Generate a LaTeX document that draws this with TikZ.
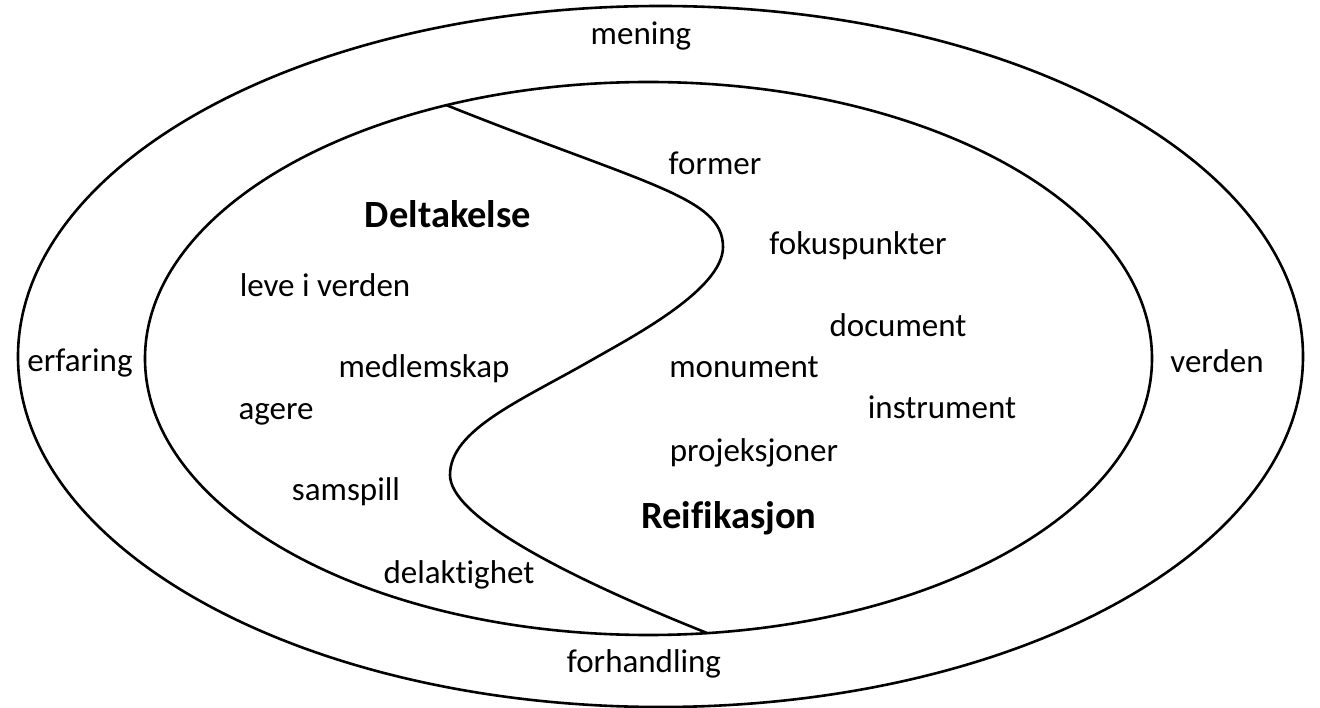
\documentclass[tikz,border=0pt]{standalone}
\usepackage{fontspec}
\setmainfont{Carlito}[Ligatures={NoCommon}]
\begin{document}
\begin{tikzpicture}[x=1pt,y=-1pt]
\tikzset{
  ring/.style={draw=black, line width=2.6pt},
  sline/.style={draw=black, line width=2.6pt},
  lbl/.style={anchor=base, inner sep=0pt, font=\fontsize{33}{40}\selectfont},
  hd/.style={anchor=base, inner sep=0pt, font=\fontsize{38.5}{46}\selectfont\bfseries}
}
\useasboundingbox (0,0) rectangle (1320,708);
% rings
\coordinate (oc) at (660.5,356.5);
\coordinate (ic) at (648.5,358.5);
\draw[ring] (oc) ellipse [x radius=642.5pt, y radius=350.5pt];
\draw[ring] (ic) ellipse [x radius=503.5pt, y radius=276.5pt];
% S-curve dividing the inner ellipse
\coordinate (stop) at (446,105);
\coordinate (sbot) at (707,633);
\draw[sline] (stop) .. controls (646,185) and (723,197) .. (723,247)
  .. controls (723,290) and (630,338) .. (590,361)
  .. controls (520,401) and (450,430) .. (450,475)
  .. controls (450,515) and (557,573) .. (sbot);
% outer ring labels
\node[lbl] (mening) at (641,45) {mening};
\node[lbl] (erfaring) at (80,372) {erfaring};
\node[lbl] (verden) at (1217,373) {verden};
\node[lbl] (forhandling) at (644,672) {forhandling};
% left side
\node[hd] (deltakelse) at (448,228) {Deltakelse};
\node[lbl] (leve) at (325,297) {leve i verden};
\node[lbl] (medlemskap) at (424,378) {medlemskap};
\node[lbl] (agere) at (276,420) {agere};
\node[lbl] (samspill) at (346,500) {samspill};
\node[lbl] (delaktighet) at (459,583) {delaktighet};
% right side
\node[lbl] (former) at (715,175) {former};
\node[lbl] (fokus) at (858,255) {fokuspunkter};
\node[lbl] (document) at (898,337) {document};
\node[lbl] (monument) at (744,378) {monument};
\node[lbl] (instrument) at (942,418) {instrument};
\node[lbl] (projeksjoner) at (754,461) {projeksjoner};
\node[hd] (reifikasjon) at (729,528) {Reifikasjon};
\end{tikzpicture}
\end{document}
